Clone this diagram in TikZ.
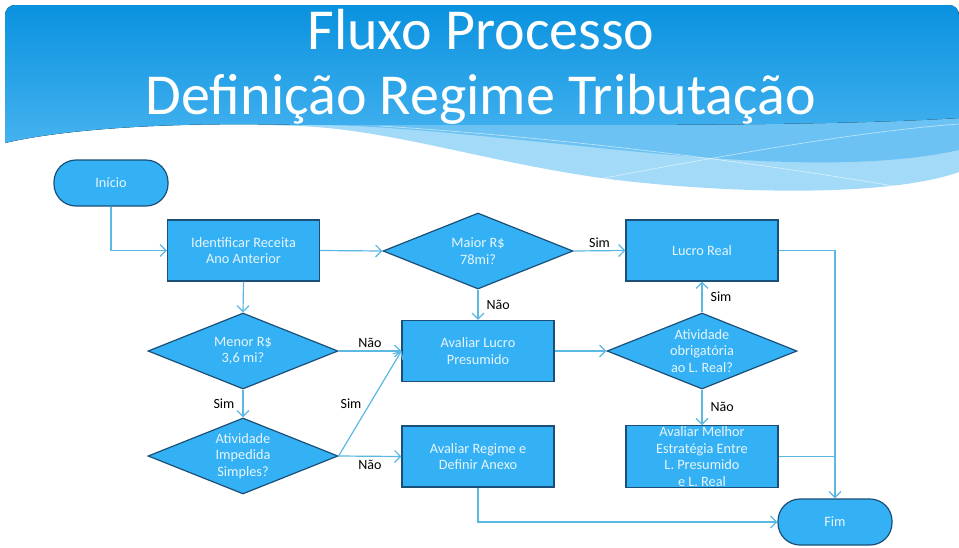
\documentclass[tikz,border=0pt]{standalone}
\usepackage{fontspec}
\setmainfont{Carlito}
\usetikzlibrary{shapes.geometric,arrows.meta}
\definecolor{boxfill}{HTML}{33B1F4}
\definecolor{boxline}{HTML}{1B4F78}
\definecolor{conn}{HTML}{5BB8E3}
\definecolor{boxtext}{HTML}{E8F5FD}
\definecolor{hdtop}{HTML}{0A92DF}
\definecolor{hdbot}{HTML}{45B2EF}
\definecolor{bandA}{HTML}{6CC3F3}
\definecolor{bandB}{HTML}{A3DAF8}
\begin{document}
\begin{tikzpicture}[x=1pt,y=-1pt,
  nodefont/.style={font=\fontsize{14.3}{16.5}\selectfont},
  box/.style={rectangle, draw=boxline, line width=1.2pt, fill=boxfill, text=boxtext,
    minimum width=152pt, minimum height=61pt, inner sep=1pt, align=center, nodefont},
  dia/.style={diamond, draw=boxline, line width=1.2pt, fill=boxfill, text=boxtext,
    minimum width=190pt, minimum height=76pt, inner sep=0pt, aspect=2.5, align=center, nodefont},
  term/.style={rectangle, rounded corners=22pt, draw=boxline, line width=1.2pt, fill=boxfill,
    text=boxtext, minimum width=114pt, minimum height=46pt, align=center, nodefont},
  conline/.style={draw=conn, line width=1.2pt, -{Straight Barb[length=6pt,width=12pt]}},
  plainline/.style={draw=conn, line width=1.2pt},
  lbl/.style={text=black, font=\fontsize{14}{16}\selectfont, inner sep=2pt},
  titlefont/.style={text=white, font=\fontsize{58}{68}\selectfont, anchor=base}
]
\useasboundingbox (0,0) rectangle (959,547);
\fill[white] (0,0) rectangle (959,547);
% header: lightest band
\fill[bandB, rounded corners=10pt] (5,143) -- (5,5) -- (959,5) [sharp corners] -- (959,172)
  .. controls (880,200) and (700,192) .. (594,177)
  .. controls (480,160) and (390,130) .. (300,126)
  .. controls (150,121) and (50,132) .. (5,143) -- cycle;
% medium band
\fill[bandA] (5,140) -- (5,60) -- (959,60) -- (959,150)
  .. controls (860,172) and (720,160) .. (620,150)
  .. controls (480,136) and (380,124) .. (300,125)
  .. controls (150,121) and (50,132) .. (5,143) -- cycle;
% main gradient
\fill[top color=hdtop, bottom color=hdbot, rounded corners=10pt] (5,143) -- (5,5) -- (959,5) [sharp corners] -- (959,118)
  .. controls (800,128) and (500,124) .. (300,125)
  .. controls (150,121) and (50,132) .. (5,143) -- cycle;
% thin white lines
\draw[white, opacity=0.6, line width=0.6pt] (380,126) .. controls (600,140) and (800,170) .. (900,187);
\draw[white, opacity=0.6, line width=0.6pt] (594,180) .. controls (700,160) and (850,132) .. (959,124);
% title
\node[titlefont] (t1) at (481,49) {Fluxo Processo};
\node[titlefont] (t2) at (481,114) {Definição Regime Tributação};
% nodes
\node[term] (ini) at (111,183) {Início};
\node[box] (ident) at (243.5,250.5) {Identificar Receita\\Ano Anterior};
\node[dia] (maior) at (478,251) {Maior R\$\\78mi?};
\node[box] (lreal) at (702,250.5) {Lucro Real};
\node[dia] (menor) at (243,351) {Menor R\$\\3,6 mi?};
\node[box] (alp) at (478,351) {Avaliar Lucro\\Presumido};
\node[dia] (obr) at (702,351) {Atividade\\obrigatória\\ao L. Real?};
\node[dia] (imp) at (243,456) {Atividade\\Impedida\\Simples?};
\node[box] (arg) at (478,456.5) {Avaliar Regime e\\Definir Anexo};
\node[box] (melhor) at (702,456.5) {Avaliar Melhor\\Estratégia Entre\\L. Presumido\\e L. Real};
\node[term] (fim) at (835,522) {Fim};
% connectors
\draw[conline] (ini.south) |- (ident.west);
\draw[conline] (ident.east) -- (maior.west);
\draw[conline] (ident.south) -- (menor.north);
\draw[conline] (maior.east) -- node[lbl, above=1pt] {Sim} (lreal.west);
\draw[conline] (maior.south) -- node[lbl, right=6pt] {Não} (alp.north);
\draw[conline] (menor.east) -- node[lbl, above=1pt] {Não} (alp.west);
\draw[conline] (menor.south) -- node[lbl, left=6pt] {Sim} (imp.north);
\draw[conline] (imp.east) -- node[lbl, left=6pt] {Sim} (alp.west);
\draw[conline] (imp.east) -- node[lbl, below=1pt] {Não} (arg.west);
\draw[conline] (alp.east) -- (obr.west);
\draw[conline] (obr.north) -- node[lbl, right=6pt] {Sim} (lreal.south);
\draw[conline] (obr.south) -- node[lbl, right=6pt] {Não} (melhor.north);
\draw[conline] (lreal.east) -| (fim.north);
\coordinate (join) at (melhor.east -| fim.north);
\draw[plainline] (melhor.east) -- (join);
\draw[conline] (arg.south) |- (fim.west);
\end{tikzpicture}
\end{document}
